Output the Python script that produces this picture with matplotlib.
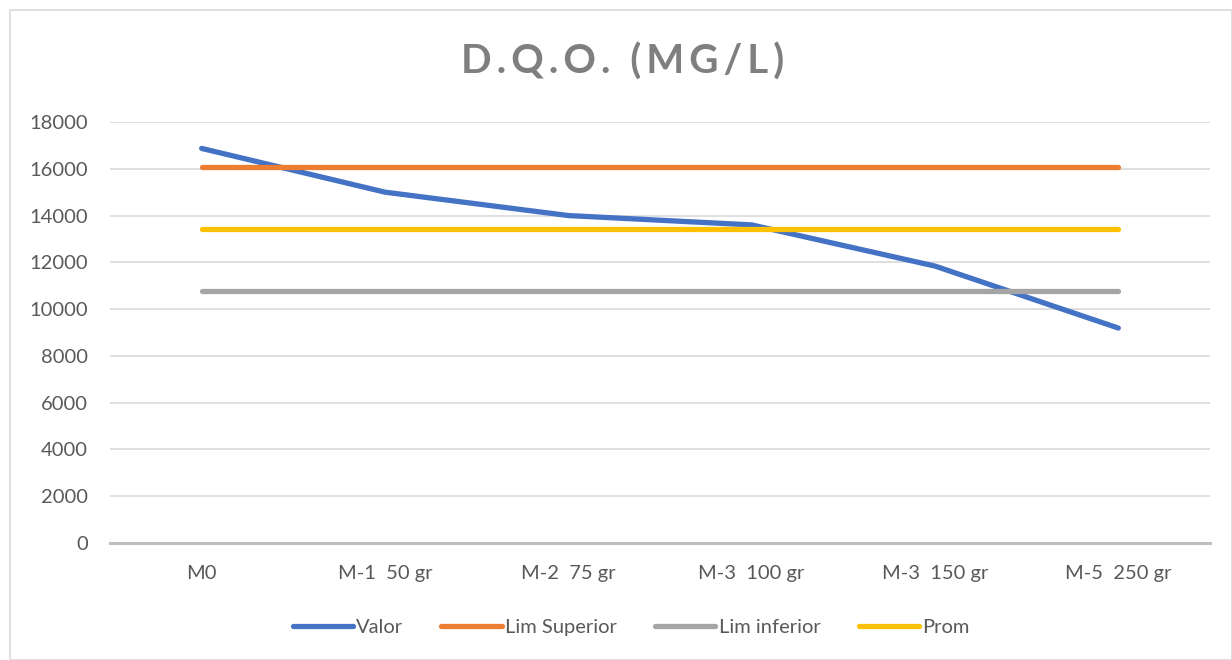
import matplotlib
matplotlib.use("Agg")
import matplotlib.pyplot as plt
from matplotlib.patches import Rectangle

categories = ["M0", "M-1  50 gr", "M-2  75 gr", "M-3  100 gr", "M-3  150 gr", "M-5  250 gr"]
valor = [16870, 15000, 14000, 13600, 11840, 9190]
lim_superior = [16060, 16060, 16060, 16060, 16060, 16060]
lim_inferior = [10760, 10760, 10760, 10760, 10760, 10760]
prom = [13420, 13420, 13420, 13420, 13420, 13420]
yticks = [0, 2000, 4000, 6000, 8000, 10000, 12000, 14000, 16000, 18000]
title = "D.Q.O. (MG/L)"

plt.rcParams['font.family'] = ['Lato', 'DejaVu Sans']

fig = plt.figure(figsize=(12.32, 6.6), dpi=100)
fig.patches.append(Rectangle((10/1232, 0), 1 - 10/1232, 1 - 10/660, transform=fig.transFigure,
                             fill=False, edgecolor="#d9d9d9", linewidth=1.2))
ax = fig.add_axes([110/1232, 1 - 543/660, 1100/1232, 421/660])

x = list(range(len(categories)))
lw = 3.8
ax.plot(x, valor, color="#4472C4", lw=lw, solid_capstyle="round", label="Valor", zorder=3)
ax.plot(x, lim_superior, color="#ED7D31", lw=lw, solid_capstyle="round", label="Lim Superior", zorder=3)
ax.plot(x, lim_inferior, color="#A5A5A5", lw=lw, solid_capstyle="round", label="Lim inferior", zorder=3)
ax.plot(x, prom, color="#FFC000", lw=lw, solid_capstyle="round", label="Prom", zorder=3)

ax.set_xlim(-0.5, len(categories) - 0.5)
ax.set_ylim(0, 18000)
ax.set_yticks(yticks)
ax.set_yticklabels([str(v) for v in yticks])
ax.set_xticks(x)
ax.set_xticklabels(categories)
ax.grid(axis="y", color="#d9d9d9", lw=1.2)
ax.set_axisbelow(True)
for s in ["top", "right", "left"]:
    ax.spines[s].set_visible(False)
ax.spines["bottom"].set_color("#bfbfbf")
ax.spines["bottom"].set_linewidth(2.2)
ax.tick_params(length=0, labelsize=14.5, labelcolor="#595959")
ax.tick_params(axis="y", pad=16)
ax.tick_params(axis="x", pad=16)

# spaced-out title, like the Excel style
fig.text(0.505, 1 - 62/660, "\u2009".join(title), ha="center", va="center", fontsize=29,
         fontweight="bold", color="#7f7f7f")

leg = fig.legend(loc="center", bbox_to_anchor=(631/1232, 1 - 627/660), ncol=4, frameon=False,
                 fontsize=14.5, handlelength=3.0, handletextpad=0.15, columnspacing=1.9)
for t in leg.get_texts():
    t.set_color("#595959")

fig.savefig("out.png", dpi=100)
